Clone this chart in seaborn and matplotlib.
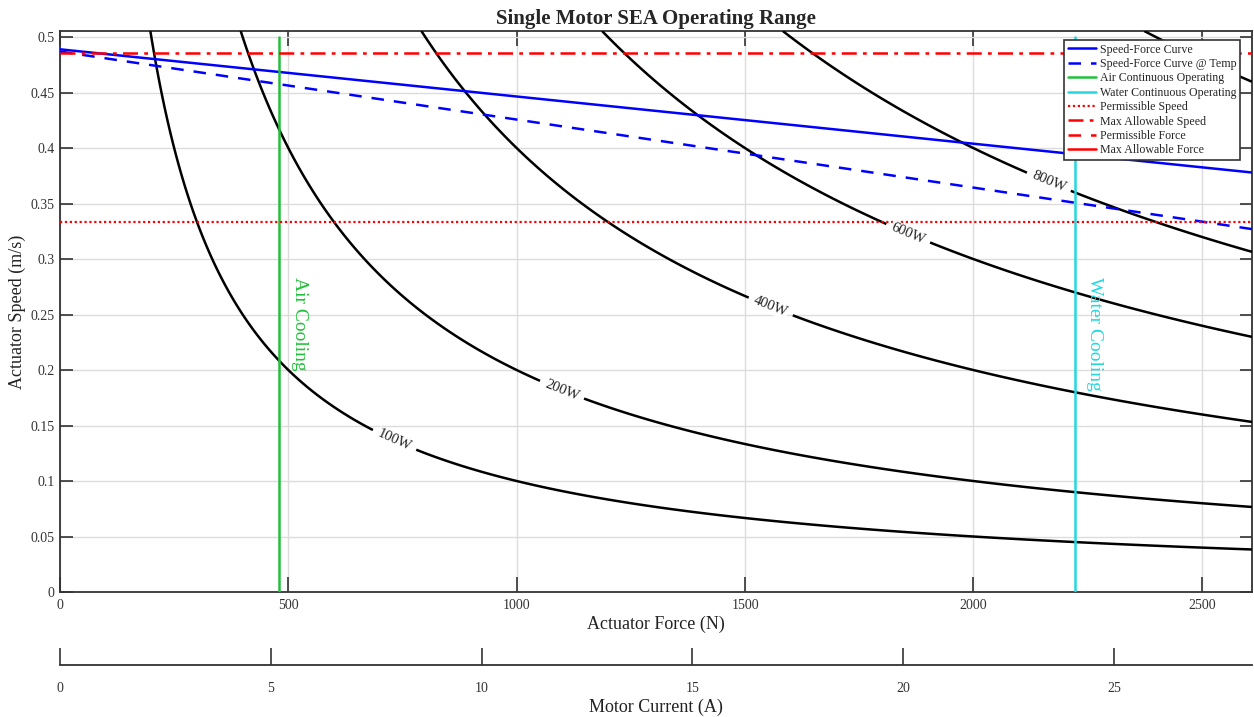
import numpy as np
import pandas as pd
import matplotlib
matplotlib.use("Agg")
import matplotlib.pyplot as plt
import seaborn as sns

# ---------------- data ----------------
force_ends = [0, 2610]                 # N
speed_nominal = [0.489, 0.378]         # m/s
speed_temp = [0.487, 0.327]            # m/s
air_force = 480                        # N
water_force = 2222                     # N
cooling_speed = [0, 0.5]
permissible_speed = 0.3333
max_allowable_speed = 0.486
permissible_force = 2800               # beyond the shown range
max_allowable_force = 3300             # beyond the shown range
power_levels = [100, 200, 400, 600, 800, 1200]   # W
label_pos = [(732, 0.1366), (1099, 0.182), (1556, 0.257), (1857, 0.323), (2165, 0.3695)]
x_ticks = [0, 500, 1000, 1500, 2000, 2500]
y_ticks = [0, 0.05, 0.1, 0.15, 0.2, 0.25, 0.3, 0.35, 0.4, 0.45, 0.5]
y_ticklabels = ["0", "0.05", "0.1", "0.15", "0.2", "0.25", "0.3", "0.35", "0.4", "0.45", "0.5"]
current_ticks = [0, 5, 10, 15, 20, 25]
force_per_amp = 92.3
x_max = 2610
y_max = 0.5055

# ---------------- style ----------------
sns.set_theme(style="white")
plt.rcParams['font.family'] = ['Liberation Serif', 'DejaVu Serif']
plt.rcParams['axes.edgecolor'] = '#333333'

fig = plt.figure(figsize=(12.54, 7.17), dpi=100)
ax = fig.add_axes([60/1254, 1-592/717, 1192/1254, 561/717])

BLUE = '#0000ff'
GREEN = '#22c03a'
CYAN = '#22d8e0'
RED = '#ff0000'

# power contours
F = np.linspace(1, x_max, 600)
V = np.linspace(0, y_max, 400)
FF, VV = np.meshgrid(F, V)
P = FF * VV
cs = ax.contour(FF, VV, P, levels=power_levels, colors='black', linewidths=1.8, zorder=3)
lbls = ax.clabel(cs, levels=power_levels[:5], manual=label_pos, inline=True, inline_spacing=6,
                 fmt='%dW', fontsize=10.5)
for t in lbls:
    t.set_bbox(dict(facecolor='white', edgecolor='none', pad=0.5))
    t.set_zorder(10)
    t.set_color('#222222')

# speed-force curves
df = pd.DataFrame({
    'force': force_ends * 2,
    'speed': speed_nominal + speed_temp,
    'curve': ['Speed-Force Curve'] * 2 + ['Speed-Force Curve @ Temp'] * 2,
})
sns.lineplot(data=df[df.curve == 'Speed-Force Curve'], x='force', y='speed', color=BLUE,
             lw=1.8, ax=ax, label='Speed-Force Curve', zorder=4)
sns.lineplot(data=df[df.curve == 'Speed-Force Curve @ Temp'], x='force', y='speed', color=BLUE,
             lw=1.8, ax=ax, label='Speed-Force Curve @ Temp', zorder=4, linestyle=(0, (5, 4)))

ax.plot([air_force] * 2, cooling_speed, color=GREEN, lw=1.8, label='Air Continuous Operating', zorder=4)
ax.plot([water_force] * 2, cooling_speed, color=CYAN, lw=1.8, label='Water Continuous Operating', zorder=4)
ax.axhline(permissible_speed, color=RED, lw=1.6, ls=(0, (1, 1.2)), label='Permissible Speed', zorder=4)
ax.axhline(max_allowable_speed, color=RED, lw=1.8, ls=(0, (6, 2.5, 1.5, 2.5)), label='Max Allowable Speed', zorder=4)
ax.axvline(permissible_force, color=RED, lw=1.8, ls=(0, (5, 4)), label='Permissible Force')
ax.axvline(max_allowable_force, color=RED, lw=1.8, label='Max Allowable Force')

ax.text(air_force + 25, 0.284, 'Air Cooling', rotation=-90, color=GREEN, fontsize=14,
        ha='left', va='top', zorder=6)
ax.text(water_force + 25, 0.284, 'Water Cooling', rotation=-90, color=CYAN, fontsize=14,
        ha='left', va='top', zorder=6)

ax.set_xlim(0, x_max)
ax.set_ylim(0, y_max)
ax.set_xticks(x_ticks)
ax.set_xticklabels([str(t) for t in x_ticks])
ax.set_yticks(y_ticks)
ax.set_yticklabels(y_ticklabels)
ax.grid(True, color='#dcdcdc', lw=1)
ax.set_axisbelow(True)
ax.tick_params(axis='x', direction='in', length=11, width=1.2, top=True, bottom=True,
               labelsize=10, colors='#333333', pad=5)
ax.tick_params(axis='y', direction='in', length=9, width=1.2, left=True, right=True,
               labelsize=10, colors='#333333', pad=4)
for s in ax.spines.values():
    s.set_linewidth(1.3)
    s.set_color('#333333')

ax.set_xlabel('Actuator Force (N)', fontsize=13, color='#222222', labelpad=3)
ax.set_ylabel('Actuator Speed (m/s)', fontsize=13, color='#222222', labelpad=3)
ax.set_title('Single Motor SEA Operating Range', fontsize=15, fontweight='bold', pad=5)

leg = ax.legend(loc='upper right', bbox_to_anchor=(0.990, 0.984), borderaxespad=0,
                fontsize=8.6, labelspacing=0.2, handlelength=2.4, handletextpad=0.3,
                borderpad=0.3, frameon=True, fancybox=False, framealpha=1)
leg.get_frame().set_edgecolor('#333333')
leg.get_frame().set_linewidth(1.2)
leg.set_zorder(20)

# secondary current axis
ax2 = fig.add_axes([60/1254, 1-665/717, 1192/1254, 0.0001])
ax2.set_facecolor('none')
for k in ['top', 'left', 'right']:
    ax2.spines[k].set_visible(False)
ax2.spines['bottom'].set_linewidth(1.3)
ax2.spines['bottom'].set_color('#333333')
ax2.set_xlim(0, x_max / force_per_amp)
ax2.set_xticks(current_ticks)
ax2.set_xticklabels([str(t) for t in current_ticks])
ax2.set_yticks([])
ax2.grid(False)
ax2.tick_params(axis='x', direction='in', length=12, width=1.2, labelsize=10,
                colors='#333333', pad=12, bottom=True, top=False, labelbottom=True)
ax2.set_xlabel('Motor Current (A)', fontsize=13, color='#222222', labelpad=3)

fig.savefig('out.png', dpi=100)
